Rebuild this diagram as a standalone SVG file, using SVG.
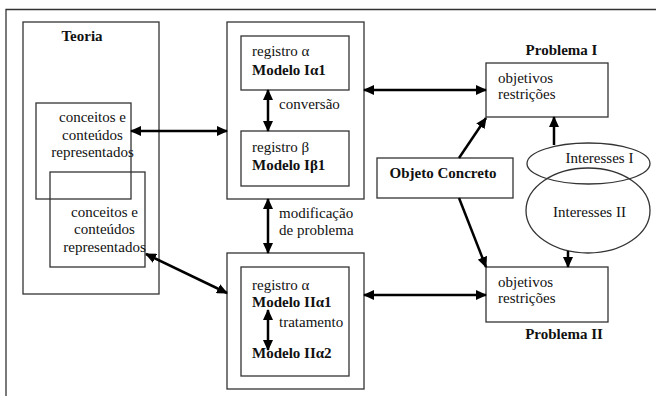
<svg xmlns="http://www.w3.org/2000/svg" width="656" height="396" viewBox="0 0 656 396">
<style>
.box{fill:none;stroke:#333;stroke-width:1.3}
.t{font-size:15px;fill:#111}
.b{font-weight:bold}
.m{text-anchor:middle}
.c{fill:none;stroke:#000;stroke-width:2.5}
</style>
<defs>
<marker id="ah" markerUnits="userSpaceOnUse" markerWidth="11" markerHeight="10" refX="10" refY="5" orient="auto-start-reverse">
<path d="M0,0 L11,5 L0,10 z" fill="#000"/>
</marker>
</defs>
<rect width="656" height="396" fill="#fff"/>
<path d="M6,396 V9.5 H656" class="box" stroke-width="1.6"/>

<g font-family="'Liberation Serif', 'Times New Roman', 'DejaVu Serif', serif">
<g id="teoria">
<rect x="23" y="22" width="136" height="272" class="box"/>
<text x="82" y="41" class="t b m">Teoria</text>
</g>
<g id="conceitos1">
<rect x="36" y="103" width="95" height="96" class="box"/>
<text class="t m"><tspan x="92.5" y="122">conceitos e</tspan><tspan x="92.5" y="139.5">conteúdos</tspan><tspan x="92.5" y="157">representados</tspan></text>
</g>
<g id="conceitos2">
<rect x="50" y="172" width="95" height="95" class="box"/>
<text class="t m"><tspan x="104.5" y="217">conceitos e</tspan><tspan x="104.5" y="234">conteúdos</tspan><tspan x="104.5" y="251.5">representados</tspan></text>
</g>

<g id="modeloI">
<rect x="227" y="22" width="137" height="177" class="box"/>
</g>
<g id="Ia1">
<rect x="241" y="36" width="108" height="54" class="box"/>
<text class="t"><tspan x="252" y="56">registro α</tspan><tspan x="252" y="75" class="b">Modelo Iα1</tspan></text>
</g>
<g id="Ib1">
<rect x="241" y="131" width="108" height="55" class="box"/>
<text class="t"><tspan x="252" y="152">registro β</tspan><tspan x="252" y="170" class="b">Modelo Iβ1</tspan></text>
</g>
<text x="279" y="109" class="t">conversão</text>
<text class="t"><tspan x="279" y="218">modificação</tspan><tspan x="279" y="235">de problema</tspan></text>

<g id="modeloII">
<rect x="227" y="253" width="137" height="136" class="box"/>
<rect x="241" y="267" width="108" height="109" class="box"/>
<text class="t"><tspan x="252" y="290">registro α</tspan><tspan x="252" y="307" class="b">Modelo IIα1</tspan></text>
<text x="279" y="327" class="t">tratamento</text>
<text x="252" y="358" class="t b">Modelo IIα2</text>
</g>

<g id="problemaI">
<rect x="486" y="63" width="122" height="54" class="box"/>
<text x="561.5" y="55" class="t b m">Problema I</text>
<text class="t"><tspan x="498" y="83">objetivos</tspan><tspan x="498" y="99">restrições</tspan></text>
</g>
<g id="problemaII">
<rect x="486" y="267" width="122" height="55" class="box"/>
<text x="564" y="339" class="t b m">Problema II</text>
<text class="t"><tspan x="498" y="287">objetivos</tspan><tspan x="498" y="303">restrições</tspan></text>
</g>
<g id="objeto">
<rect x="377" y="158" width="136" height="40" class="box"/>
<text x="443" y="178" class="t b m">Objeto Concreto</text>
</g>
<g id="interessesII">
<ellipse cx="588" cy="210.5" rx="62" ry="42.5" class="box"/>
<text x="589.5" y="217" class="t m">Interesses II</text>
</g>
<g id="interessesI">
<ellipse cx="588.5" cy="163.5" rx="61.5" ry="20.5" class="box"/>
<text x="599.5" y="163" class="t m">Interesses I</text>
</g>
</g>

<g id="connectors">
<line x1="131" y1="131" x2="227" y2="131" class="c" marker-start="url(#ah)" marker-end="url(#ah)"/>
<line x1="146" y1="254" x2="227" y2="293" class="c" marker-start="url(#ah)" marker-end="url(#ah)"/>
<line x1="268" y1="90" x2="268" y2="131" class="c" marker-start="url(#ah)" marker-end="url(#ah)"/>
<line x1="268" y1="199" x2="268" y2="253" class="c" marker-start="url(#ah)" marker-end="url(#ah)"/>
<line x1="268" y1="310" x2="268" y2="350" class="c" marker-start="url(#ah)" marker-end="url(#ah)"/>
<line x1="364" y1="90" x2="486" y2="90" class="c" marker-start="url(#ah)" marker-end="url(#ah)"/>
<line x1="364" y1="295" x2="486" y2="295" class="c" marker-start="url(#ah)" marker-end="url(#ah)"/>
<line x1="459" y1="158" x2="486" y2="118" class="c" marker-end="url(#ah)"/>
<line x1="459" y1="198" x2="486" y2="267" class="c" marker-end="url(#ah)"/>
<line x1="554" y1="145" x2="554" y2="117" class="c" marker-end="url(#ah)"/>
<line x1="568" y1="251" x2="568" y2="267" class="c" marker-end="url(#ah)"/>
</g>
</svg>
